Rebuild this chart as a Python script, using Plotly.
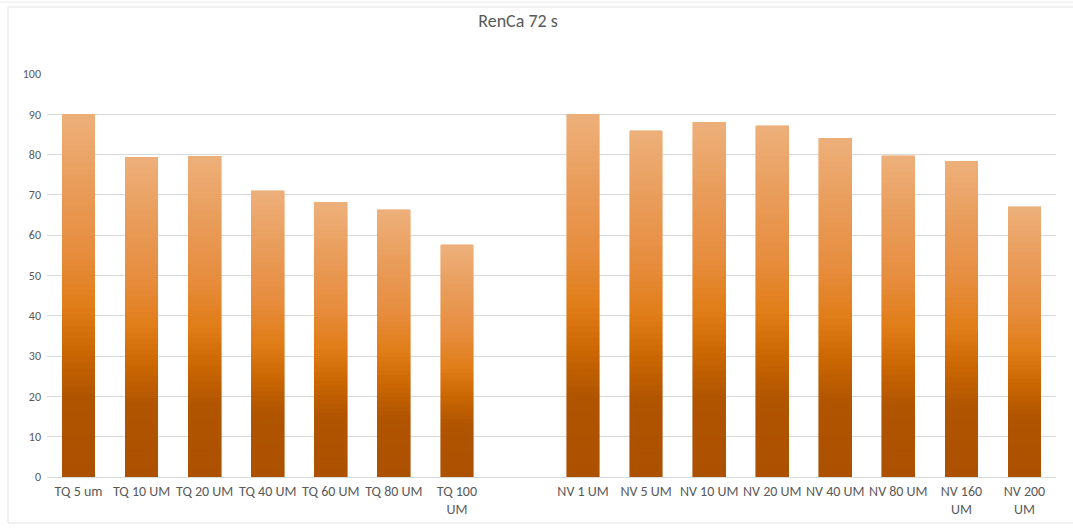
import numpy as np
import plotly.graph_objects as go

categories = ["TQ 5 um", "TQ 10 UM", "TQ 20 UM", "TQ 40 UM", "TQ 60 UM", "TQ 80 UM", "TQ 100<br>UM",
              " ",
              "NV 1 UM", "NV 5 UM", "NV 10 UM", "NV 20 UM", "NV 40 UM", "NV 80 UM", "NV 160<br>UM", "NV 200<br>UM"]
values = [90, 79.4, 79.6, 71, 68.2, 66.3, 57.6,
          0,
          90, 85.9, 88, 87.1, 84.1, 79.7, 78.4, 67]
y_ticks = [0, 10, 20, 30, 40, 50, 60, 70, 80, 90, 100]
title_text = "RenCa 72 s"

# gradient stops (fraction of bar height from bottom -> rgb)
stop_pos = [0.0, 0.22, 0.35, 0.47, 0.62, 0.8, 1.0]
stop_rgb = np.array([
    [172, 81, 0],
    [176, 84, 0],
    [203, 103, 2],
    [224, 125, 24],
    [231, 141, 62],
    [233, 156, 90],
    [237, 176, 122],
])

N = 60
vals = np.array(values, dtype=float)
fig = go.Figure()
for k in range(N):
    f = (k + 0.5) / N
    rgb = [int(round(np.interp(f, stop_pos, stop_rgb[:, c]))) for c in range(3)]
    col = f"rgb({rgb[0]},{rgb[1]},{rgb[2]})"
    fig.add_trace(go.Bar(
        x=categories, y=vals / N,
        marker=dict(color=col, line=dict(color=col, width=0.6)),
        showlegend=False, hoverinfo="skip",
    ))

W, H = 1073, 529
L, R, T, B = 47, 17, 74, 52
pw, ph = W - L - R, H - T - B

def px_x(p):
    return (p - L) / pw

def px_y(p):
    return (H - B - p) / ph

fam = "Carlito, Lato, sans-serif"
fig.update_layout(
    barmode="stack",
    bargap=0.48,
    width=W, height=H,
    margin=dict(l=L, r=R, t=T, b=B),
    paper_bgcolor="white", plot_bgcolor="white",
    title=dict(text=title_text, xref="container", x=518 / W, xanchor="center",
               yref="container", y=1 - 21 / H, yanchor="middle",
               font=dict(family=fam, size=18, color="#595959")),
    font=dict(family=fam, size=12, color="#595959"),
    xaxis=dict(type="category", categoryorder="array", categoryarray=categories,
               showgrid=False, showline=False, ticks="", tickfont=dict(size=14, color="#595959"),
               tickangle=0, ticklabelstandoff=4),
    yaxis=dict(range=[0, 100], tickvals=y_ticks, showgrid=True, gridcolor="#D9D9D9", gridwidth=1,
               zeroline=True, zerolinecolor="#D9D9D9", zerolinewidth=1, showline=False,
               tickfont=dict(size=12, color="#595959"), ticks="", ticklabelstandoff=5),
    shapes=[
        dict(type="rect", xref="paper", yref="paper",
             x0=px_x(8), x1=px_x(1080), y0=px_y(523), y1=px_y(7),
             line=dict(color="#E3E3E3", width=1), fillcolor="rgba(0,0,0,0)", layer="below"),
        dict(type="line", xref="paper", yref="paper",
             x0=px_x(0), x1=px_x(1073), y0=px_y(2), y1=px_y(2),
             line=dict(color="#E8E8E8", width=1), layer="below"),
    ],
)

fig.write_html("out.html")
